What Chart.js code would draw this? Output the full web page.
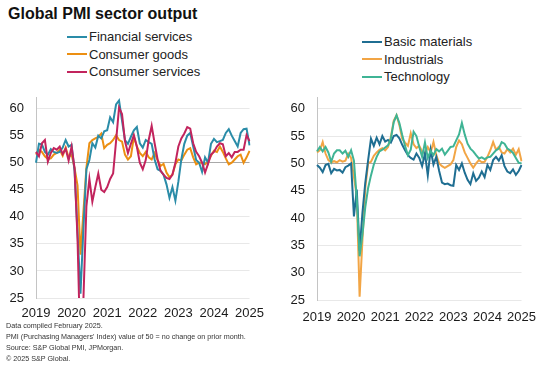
<!DOCTYPE html>
<html>
<head>
<meta charset="utf-8">
<script src="https://cdn.jsdelivr.net/npm/chart.js@4.4.1/dist/chart.umd.min.js"></script>
<style>
html,body{margin:0;padding:0;background:#fff;width:556px;height:365px;overflow:hidden;font-family:"Liberation Sans",Arial,sans-serif;}
#title{position:absolute;left:8px;top:4px;font-weight:bold;font-size:16px;line-height:20px;color:#111;white-space:nowrap;}
.legend{position:absolute;font-size:13px;color:#222;}
.legend .row{height:17.5px;line-height:17.5px;white-space:nowrap;}
.legend .sw{display:inline-block;width:20px;height:2px;vertical-align:middle;margin-right:2px;position:relative;top:-1px;}
canvas{position:absolute;}
#footer{position:absolute;left:6px;top:320px;font-size:7.2px;line-height:11px;color:#333;white-space:nowrap;}
</style>
</head>
<body>
<div id="title">Global PMI sector output</div>
<div class="legend" id="leg1" style="left:67px;top:28px;"></div>
<div class="legend" id="leg2" style="left:362px;top:33px;"></div>
<canvas id="c1" width="272" height="250" style="left:0;top:78px;"></canvas>
<canvas id="c2" width="264" height="250" style="left:282px;top:78px;"></canvas>
<div id="footer">
<div>Data compiled February 2025.</div>
<div>PMI (Purchasing Managers' Index) value of 50 = no change on prior month.</div>
<div>Source: S&amp;P Global PMI, JPMorgan.</div>
<div>&copy; 2025 S&amp;P Global.</div>
</div>
<script>
// Categories: monthly, Jan 2019 - Jan 2025
const months = [];
for (let y = 2019; y <= 2025; y++) {
  for (let m = 1; m <= 12; m++) {
    if (months.length < 73) months.push(y + '-' + String(m).padStart(2, '0'));
  }
}
const tickLabels = ['2019', '2020', '2021', '2022', '2023', '2024', '2025'];
const yTickValues = [25, 30, 35, 40, 45, 50, 55, 60];

// Left panel
const financialServices = [50.0,53.5,53.4,52.0,51.5,52.5,52.0,51.8,52.0,52.8,54.2,53.0,
  53.3,48.5,37.0,25.8,38.0,48.8,50.5,53.6,52.8,55.0,54.5,55.8,
  56.0,58.4,57.5,60.8,61.5,57.8,54.2,53.5,54.8,56.0,56.6,53.6,
  52.8,54.2,53.8,53.5,50.6,48.8,48.5,47.8,46.0,43.5,45.5,43.0,
  46.5,50.6,53.5,55.0,55.5,53.0,50.5,50.0,48.3,51.0,50.0,53.5,
  54.4,53.8,54.0,54.2,55.5,56.2,55.0,54.0,53.0,55.5,56.2,56.3,
  53.2];
const consumerGoods = [51.5,52.4,52.0,51.2,50.7,50.8,51.5,51.8,52.4,51.3,52.8,51.0,
  51.5,49.0,45.8,33.0,41.0,49.1,53.6,54.2,54.5,54.8,55.4,52.7,
  53.3,53.6,54.2,55.1,54.2,53.9,51.5,50.6,51.2,54.8,53.0,51.8,
  51.2,52.0,51.0,50.6,51.8,50.5,49.4,49.8,48.2,47.3,47.8,49.7,
  50.6,50.4,51.5,52.4,52.7,51.0,49.7,50.0,50.0,49.7,50.2,51.3,
  52.2,52.0,53.0,52.0,50.8,49.7,50.0,50.6,51.2,51.5,50.0,51.0,
  52.2];
const consumerServices = [52.0,51.2,53.6,54.2,50.2,51.8,52.7,52.4,53.0,51.6,52.6,50.4,
  53.0,49.0,36.0,14.0,25.0,42.0,47.0,42.8,45.5,48.0,45.0,44.6,
  45.5,47.0,48.0,54.0,60.2,59.0,54.0,51.8,53.5,55.1,53.0,50.0,
  48.8,50.5,54.2,56.8,53.6,50.6,48.5,47.8,47.2,47.0,47.8,50.0,
  53.0,54.5,55.4,56.6,56.3,53.6,52.0,51.2,50.0,48.2,49.8,51.5,
  52.0,53.0,53.6,53.4,51.2,51.8,51.0,52.0,52.0,52.4,52.4,55.1,
  54.0];

// Right panel
const basicMaterials = [49.7,49.2,48.4,49.7,49.9,48.2,49.0,48.7,48.8,48.3,49.3,49.6,
  50.0,40.3,45.2,34.0,41.0,46.5,50.6,54.5,53.2,54.7,53.5,55.0,
  54.0,54.3,53.8,55.0,55.2,54.6,53.4,52.4,51.5,51.0,50.7,51.8,
  51.0,49.5,51.8,47.8,52.5,49.8,51.2,48.6,46.5,46.2,46.3,46.0,
  45.9,49.7,48.8,50.0,48.3,47.0,46.2,48.2,46.8,47.4,48.5,47.5,
  49.7,48.8,50.6,51.2,50.5,51.5,49.5,48.5,48.2,48.9,47.9,48.6,
  49.7];
const industrials = [52.0,52.4,53.9,51.8,50.6,50.2,50.4,50.2,50.6,50.3,50.5,51.8,
  51.0,47.5,44.0,25.6,36.0,45.5,50.0,50.3,51.4,52.0,52.5,52.8,
  52.4,53.0,54.8,57.8,58.8,57.0,54.5,53.8,53.2,55.5,53.5,52.8,
  53.2,52.2,51.8,53.0,52.0,53.9,51.5,50.0,49.5,49.2,49.5,49.8,
  50.6,53.0,54.2,53.5,52.0,51.0,50.0,49.2,50.0,50.6,50.2,50.3,
  51.2,52.4,53.9,52.5,53.0,52.0,51.8,52.6,52.0,52.7,51.6,52.6,
  50.4];
const technology = [52.2,53.0,52.2,53.0,52.0,50.3,51.8,52.4,52.4,51.8,52.3,51.2,
  52.4,50.5,43.5,33.0,37.0,42.0,45.5,47.8,49.8,51.2,52.2,52.5,
  52.9,53.3,54.5,57.5,58.8,57.4,55.2,53.2,51.5,52.5,55.8,55.0,
  53.0,51.2,53.8,51.0,52.3,51.5,52.6,52.2,52.7,51.6,52.3,53.0,
  53.1,54.2,55.3,57.4,55.3,53.6,52.7,52.2,51.5,50.9,51.1,50.8,
  51.1,51.2,51.8,52.4,52.7,53.9,53.6,52.7,52.4,51.9,51.0,50.1,
  50.0];

const leftNames = ['Financial services', 'Consumer goods', 'Consumer services'];
const rightNames = ['Basic materials', 'Industrials', 'Technology'];
const leftColors = ['#2a8ca8', '#ec8f12', '#c2245d'];
const rightColors = ['#1f6e92', '#f2a545', '#3fb495'];

const FONT = '"Liberation Sans", Arial, sans-serif';

function legend(id, names, colors) {
  const el = document.getElementById(id);
  names.forEach((n, i) => {
    const r = document.createElement('div');
    r.className = 'row';
    const s = document.createElement('span');
    s.className = 'sw';
    s.style.background = colors[i];
    r.appendChild(s);
    r.appendChild(document.createTextNode(n));
    el.appendChild(r);
  });
}
legend('leg1', leftNames, leftColors);
legend('leg2', rightNames, rightColors);

function build(id, series, names, colors, orders, yW, xH, pad, xPad) {
  const datasets = series.map((d, i) => ({
    label: names[i], data: d, borderColor: colors[i], backgroundColor: colors[i],
    borderWidth: 2, pointRadius: 0, tension: 0, fill: false, order: orders[i]
  }));
  return new Chart(document.getElementById(id), {
    type: 'line',
    data: { labels: months, datasets },
    options: {
      responsive: false, animation: false, devicePixelRatio: 1,
      layout: { padding: pad },
      plugins: { legend: { display: false }, tooltip: { enabled: false } },
      scales: {
        x: {
          type: 'category', offset: false,
          grid: { display: false, drawTicks: false },
          border: { display: false },
          ticks: {
            autoSkip: false, maxRotation: 0, minRotation: 0, padding: xPad,
            font: { size: 13, family: FONT }, color: '#1a1a1a',
            callback: (v, i) => (i % 12 === 0 ? tickLabels[i / 12] : '')
          },
          afterFit: s => { s.height = xH; }
        },
        y: {
          min: 25, max: 62,
          grid: {
            drawTicks: false,
            color: c => (c.tick && c.tick.value === 50 ? '#a9a9a9' : '#e8e8e8')
          },
          border: { display: true, color: '#c4c4c4' },
          ticks: { padding: 12, font: { size: 13, family: FONT }, color: '#1a1a1a' },
          afterBuildTicks: s => { s.ticks = yTickValues.map(v => ({ value: v })); },
          afterFit: s => { s.width = yW; }
        }
      }
    }
  });
}

build('c1', [financialServices, consumerGoods, consumerServices], leftNames, leftColors, [1, 2, 0],
  36, 30, { top: 10, right: 20, left: 0, bottom: 0 }, 8);
build('c2', [basicMaterials, industrials, technology], rightNames, rightColors, [1, 2, 0],
  35, 28, { top: 9, right: 18, left: 0, bottom: 0 }, 10);
</script>
</body>
</html>
